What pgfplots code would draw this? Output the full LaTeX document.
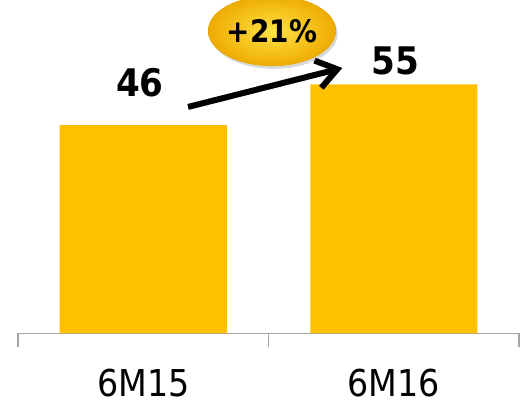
\documentclass[border=0pt]{standalone}
\usepackage{pgfplots}
\pgfplotsset{compat=1.18}
\usepackage{fontspec}
\setmainfont{DejaVu Sans Condensed}
\usetikzlibrary{arrows.meta,shadows,shapes.geometric}
\definecolor{barcol}{RGB}{255,192,0}
\definecolor{axgray}{RGB}{165,165,165}
\begin{document}
\begin{tikzpicture}[x=1pt,y=1pt]
\begin{axis}[
  at={(18pt,70.5pt)}, anchor=south west,
  scale only axis, width=501pt, height=333.5pt,
  xmin=-0.5, xmax=1.5, ymin=0, ymax=73.6,
  axis y line=none, axis x line*=bottom,
  x axis line style={draw=axgray, line width=1.5pt},
  xtick={0,1}, xticklabels={6M15,6M16},
  major tick length=0pt,
  extra x ticks={-0.5,0.5,1.5}, extra x tick labels={},
  extra x tick style={major tick length=14pt, tick align=outside,
    tick style={draw=axgray, line width=1.5pt}},
  xticklabel style={anchor=base, yshift=-63pt, text depth=0pt, font=\fontsize{37}{40}\selectfont},
  ytick=\empty,
  clip=false,
  ybar, bar width=167pt, bar shift=0pt,
]
\addplot[fill=barcol, draw=none] coordinates {(0,46) (1,55)};
\node[anchor=base, font=\bfseries\fontsize{38}{40}\selectfont] at (axis cs:-0.013,52.2) {46};
\node[anchor=base, font=\bfseries\fontsize{38}{40}\selectfont] at (axis cs:1.005,57.07) {55};
\draw[line width=6pt, -{Straight Barb[length=20pt,width=28pt]}] (axis cs:0.179,50) -- (axis cs:0.795,58.6);
\node[ellipse, minimum width=121pt, minimum height=70pt, inner sep=0pt,
  inner color={rgb,255:red,255;green,226;blue,70}, outer color={rgb,255:red,238;green,172;blue,0},
  draw={rgb,255:red,232;green,165;blue,0}, line width=0.6pt,
  drop shadow={opacity=0.3, shadow xshift=2pt, shadow yshift=-3pt}]
  at (axis cs:0.514,66.8) {\bfseries\fontsize{31}{33}\selectfont +21\%};
\end{axis}
\pgfresetboundingbox
\path[use as bounding box] (0,0) rectangle (520,404);
\end{tikzpicture}
\end{document}
